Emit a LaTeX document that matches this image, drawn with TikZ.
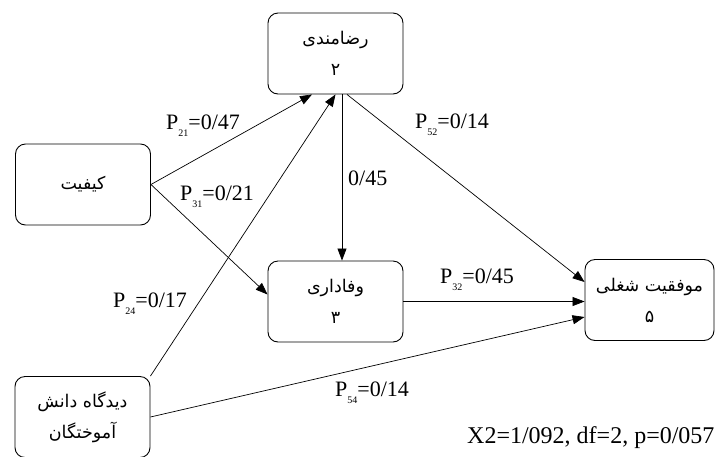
\documentclass[tikz,border=0pt]{standalone}
\usepackage{fontspec}
\setmainfont{Liberation Serif}
\newfontfamily\farsi[Script=Arabic]{DejaVu Sans}
\TeXXeTstate=1
\usetikzlibrary{arrows.meta}
\newcommand{\fa}[1]{\beginR #1\endR}
\newcommand{\pc}[2]{P\raisebox{-7pt}{\fontsize{10}{10}\selectfont #1}#2}

\begin{document}
\begin{tikzpicture}[x=1pt,y=-1pt,
	box/.style={draw,rounded corners=10pt,line width=0.9pt,
		minimum width=135pt,minimum height=81pt,align=center,
		font=\farsi\fontsize{17.5}{31}\selectfont},
	link/.style={-{Triangle[length=12pt,width=9pt]},line width=0.7pt},
	coef/.style={font=\fontsize{22}{22}\selectfont,inner sep=0pt,anchor=base west}]

\useasboundingbox (0,0) rectangle (715,456);

% The variables
\node[box] (ridha) at (335.5,53.5) {\fa{رضامندی}\\\fa{۲}};
\node[box] (kayf) at (83,184.5) {\fa{کیفیت}};
\node[box] (vafa) at (335.5,301.5) {\fa{وفاداری}\\\fa{۳}};
\node[box,minimum width=129pt] (movaf) at (649.5,300) {\fa{موفقیت شغلی}\\\fa{۵}};
\node[box] (didg) at (82.5,417) {\fa{دیدگاه دانش}\\\fa{آموختگان}};

% The paths
\draw[link] (kayf.east) -- ([xshift=-23.5pt]ridha.south);
\draw[link] (kayf.east) -- ([yshift=7pt]vafa.west);
\draw[link] (didg.north east) -- (ridha.south);
\draw[link] ([xshift=6.5pt]ridha.south) -- ([xshift=6.5pt]vafa.north);
\draw[link] ([xshift=11.5pt]ridha.south) -- ([yshift=18pt]movaf.west);
\draw[link] (vafa.east) -- (vafa.east -| movaf.west);
\draw[link] (didg.east) -- ([yshift=-17pt]movaf.west);

% The coefficients
\node[coef] (p21) at (166,129) {\pc{21}{=0/47}};
\node[coef] (p31) at (180,200) {\pc{31}{=0/21}};
\node[coef] (p23) at (348,185) {0/45};
\node[coef] (p52) at (415,128) {\pc{52}{=0/14}};
\node[coef] (p24) at (113,307) {\pc{24}{=0/17}};
\node[coef] (p32) at (440,283) {\pc{32}{=0/45}};
\node[coef] (p54) at (335,396) {\pc{54}{=0/14}};
\node[coef,font=\fontsize{24}{24}\selectfont] (fit) at (467,443) {X2=1/092, df=2, p=0/057};

\end{tikzpicture}
\end{document}
